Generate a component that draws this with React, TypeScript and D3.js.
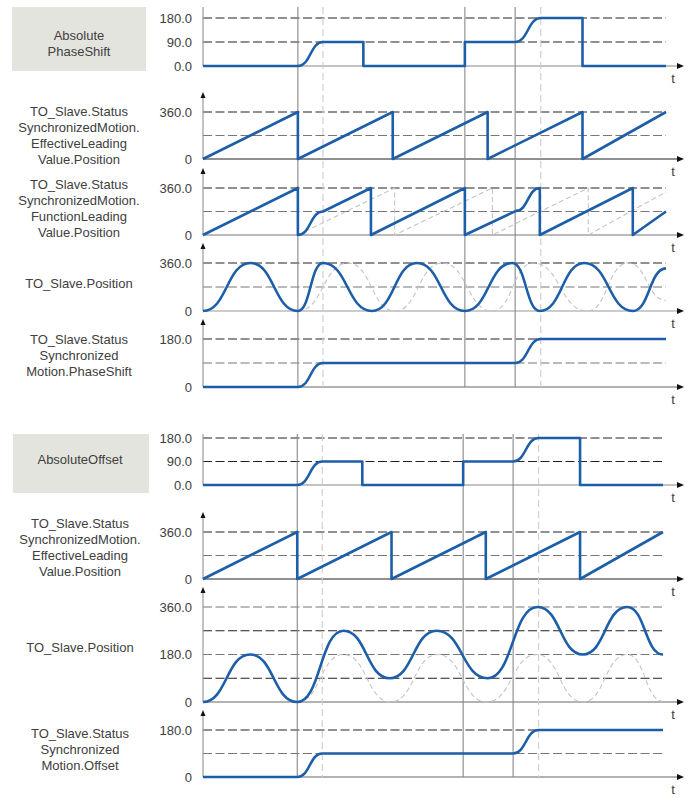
import React from "react";
import * as d3 from "d3";

type Pt = [number, number, number?]; // [time, value, smooth-into-this-point]

const solidMarks = [1.0, 2.76, 3.29];
const dashedMarks = [1.265, 3.56];
const tEnd = 4.88;

// AbsolutePhaseShift / AbsoluteOffset command
const commandValue: Pt[] = [
  [0, 0], [1.0, 0], [1.265, 90, 1], [1.69, 90], [1.69, 0], [2.76, 0], [2.76, 90],
  [3.29, 90], [3.56, 180, 1], [4.0, 180], [4.0, 0], [4.88, 0],
];
const effectiveLeading: Pt[] = [
  [0, 0], [1, 360], [1, 0], [2, 360], [2, 0], [3, 360], [3, 0], [4, 360], [4, 0], [4.88, 360],
];
const effectiveLeadingRef: Pt[] = [
  [1, 0], [2.02, 360], [2.02, 0], [3.05, 360], [3.05, 0], [4.06, 360], [4.06, 0], [4.88, 330],
];
const functionLeading: Pt[] = [
  [0, 0], [1.0, 360], [1.0, 0], [1.265, 180, 1], [1.77, 360], [1.77, 0], [2.76, 360],
  [2.76, 0], [3.3, 185], [3.55, 360, 1], [3.55, 0], [4.53, 360], [4.53, 0], [4.88, 180],
];
const slavePhase: Pt[] = [
  [0, 0], [0.5, 360, 1], [1.0, 0, 1], [1.265, 360, 1], [1.78, 0, 1], [2.255, 360, 1],
  [2.76, 0, 1], [3.26, 360, 1], [3.55, 0, 1], [4.02, 360, 1], [4.53, 0, 1], [4.88, 320, 1],
];
const slavePhaseRef: Pt[] = [
  [1.0, 0], [1.53, 360, 1], [2.02, 0, 1], [2.52, 360, 1], [3.05, 0, 1], [3.48, 360, 1],
  [4.05, 0, 1], [4.48, 360, 1], [4.88, 80, 1],
];
const statusValue: Pt[] = [
  [0, 0], [1.0, 0], [1.265, 90, 1], [3.29, 90], [3.56, 180, 1], [4.88, 180],
];
const slaveOffset: Pt[] = [
  [0, 0], [0.5, 180, 1], [1.0, 0, 1], [1.49, 270, 1], [1.98, 90, 1], [2.48, 270, 1],
  [3.02, 90, 1], [3.55, 360, 1], [4.03, 180, 1], [4.5, 360, 1], [4.88, 180, 1],
];
const slaveOffsetRef: Pt[] = [
  [1.0, 0], [1.49, 180, 1], [1.99, 0, 1], [2.49, 180, 1], [3.01, 0, 1], [3.54, 180, 1],
  [4.03, 0, 1], [4.5, 180, 1], [4.88, 3, 1],
];

const blue = "#1d5ea8";
const textCol = "#404040";
const dark = "#222";
const grey = "#777";
const font = "Liberation Sans, Arial, sans-serif";

type Panel = {
  base: number;
  top: number;
  max: number;
  ticks: [number, string][];
  grid: [number, string][];
  lines: string[];
  lineY: number;
  box?: [number, number, number, number];
  arrow: boolean;
  axis: string;
  series: Pt[];
  refs?: Pt[];
};

const topPanels: Panel[] = [
  {
    base: 66, top: 18, max: 180, ticks: [[180, "180.0"], [90, "90.0"], [0, "0.0"]],
    grid: [[180, dark], [90, dark]], lines: ["Absolute", "PhaseShift"], lineY: 40,
    box: [12, 7, 134, 64], arrow: false, axis: "#888", series: commandValue,
  },
  {
    base: 159, top: 112, max: 360, ticks: [[360, "360.0"], [0, "0"]],
    grid: [[360, dark], [180, grey]],
    lines: ["TO_Slave.Status", "SynchronizedMotion.", "EffectiveLeading", "Value.Position"],
    lineY: 116, arrow: true, axis: "#222", series: effectiveLeading,
  },
  {
    base: 235, top: 188, max: 360, ticks: [[360, "360.0"], [0, "0"]],
    grid: [[360, dark], [180, grey]],
    lines: ["TO_Slave.Status", "SynchronizedMotion.", "FunctionLeading", "Value.Position"],
    lineY: 189, arrow: true, axis: "#777", series: functionLeading, refs: effectiveLeadingRef,
  },
  {
    base: 311, top: 263, max: 360, ticks: [[360, "360.0"], [0, "0"]],
    grid: [[360, dark], [180, grey]], lines: ["TO_Slave.Position"], lineY: 288,
    arrow: true, axis: "#999", series: slavePhase, refs: slavePhaseRef,
  },
  {
    base: 387, top: 339, max: 180, ticks: [[180, "180.0"], [0, "0"]],
    grid: [[180, dark], [90, grey]],
    lines: ["TO_Slave.Status", "Synchronized", "Motion.PhaseShift"], lineY: 344,
    arrow: true, axis: "#666", series: statusValue,
  },
];

const bottomPanels: Panel[] = [
  {
    base: 485, top: 438, max: 180, ticks: [[180, "180.0"], [90, "90.0"], [0, "0.0"]],
    grid: [[180, dark], [90, dark]], lines: ["AbsoluteOffset"], lineY: 464,
    box: [13, 434, 136, 59], arrow: false, axis: "#888", series: commandValue,
  },
  {
    base: 579, top: 532, max: 360, ticks: [[360, "360.0"], [0, "0"]],
    grid: [[360, dark], [180, grey]],
    lines: ["TO_Slave.Status", "SynchronizedMotion.", "EffectiveLeading", "Value.Position"],
    lineY: 528, arrow: true, axis: "#222", series: effectiveLeading,
  },
  {
    base: 702, top: 607, max: 360, ticks: [[360, "360.0"], [180, "180.0"], [0, "0"]],
    grid: [[360, grey], [270, dark], [180, grey], [90, dark]],
    lines: ["TO_Slave.Position"], lineY: 652, arrow: true, axis: "#666",
    series: slaveOffset, refs: slaveOffsetRef,
  },
  {
    base: 777, top: 730, max: 180, ticks: [[180, "180.0"], [0, "0"]],
    grid: [[180, dark], [90, grey]],
    lines: ["TO_Slave.Status", "Synchronized", "Motion.Offset"], lineY: 738,
    arrow: true, axis: "#666", series: statusValue,
  },
];

function tracePath(pts: Pt[], x: (t: number) => number, y: (v: number) => number) {
  const p = d3.path();
  pts.forEach(([t, v, s], i) => {
    const px = x(t);
    const py = y(v);
    if (i === 0) p.moveTo(px, py);
    else if (s) {
      const qx = x(pts[i - 1][0]);
      const qy = y(pts[i - 1][1]);
      const mx = (qx + px) / 2;
      p.bezierCurveTo(mx, qy, mx, py, px, py);
    } else p.lineTo(px, py);
  });
  return p.toString();
}

function Section({ panels, xEnd, markTop, markBottom, labelX }: {
  panels: Panel[]; xEnd: number; markTop: number; markBottom: number; labelX: number;
}) {
  const x = d3.scaleLinear().domain([0, tEnd]).range([203, xEnd]);
  return (
    <g>
      {panels.map((pn, i) => {
        const y = d3.scaleLinear().domain([0, pn.max]).range([pn.base, pn.top]);
        const axisTop = pn.arrow ? pn.top - 16 : markTop;
        return (
          <g key={`p${i}`}>
            {pn.box && (
              <rect x={pn.box[0]} y={pn.box[1]} width={pn.box[2]} height={pn.box[3]} fill="#e4e4de" />
            )}
            {pn.lines.map((ln, j) => (
              <text key={j} x={labelX} y={pn.lineY + j * 16} textAnchor="middle"
                fontSize={13} fill={textCol}>{ln}</text>
            ))}
            {pn.grid.map(([v, c], j) => (
              <line key={`g${j}`} x1={203} x2={xEnd} y1={y(v)} y2={y(v)}
                stroke={c} strokeWidth={1.1} strokeDasharray="9,3.5" />
            ))}
            {pn.ticks.map(([v, s], j) => (
              <text key={`t${j}`} x={192} y={y(v) + 4.5} textAnchor="end"
                fontSize={13} fill={textCol}>{s}</text>
            ))}
            <line x1={203} x2={203} y1={axisTop} y2={pn.base} stroke="#999" strokeWidth={1.2} />
            {pn.arrow && (
              <path d={`M203,${axisTop - 4}L200.5,${axisTop + 2}L205.5,${axisTop + 2}Z`} fill="#111" />
            )}
            <line x1={203} x2={678} y1={pn.base} y2={pn.base} stroke={pn.axis} strokeWidth={1.2} />
            <path d={`M684,${pn.base}L677,${pn.base - 3}L677,${pn.base + 3}Z`} fill="#111" />
            <text x={673} y={pn.base + 17} textAnchor="middle" fontSize={13} fill={textCol}>t</text>
          </g>
        );
      })}
      {solidMarks.map((t, i) => (
        <line key={`s${i}`} x1={x(t)} x2={x(t)} y1={markTop} y2={markBottom}
          stroke="#888" strokeWidth={1.1} />
      ))}
      {dashedMarks.map((t, i) => (
        <line key={`d${i}`} x1={x(t)} x2={x(t)} y1={markTop} y2={markBottom}
          stroke="#d0d0d0" strokeWidth={1.2} strokeDasharray="7,4" />
      ))}
      {panels.map((pn, i) => {
        const y = d3.scaleLinear().domain([0, pn.max]).range([pn.base, pn.top]);
        return (
          <g key={`c${i}`}>
            {pn.refs && (
              <path d={tracePath(pn.refs, x, y)} fill="none" stroke="#c4c4c4"
                strokeWidth={1.1} strokeDasharray="5,3" />
            )}
            <path d={tracePath(pn.series, x, y)} fill="none" stroke={blue}
              strokeWidth={2.6} strokeLinejoin="round" />
          </g>
        );
      })}
    </g>
  );
}

export default function App() {
  return (
    <svg width={697} height={798} style={{ position: "absolute", left: 0, top: 0, background: "#fff" }}
      fontFamily={font}>
      <Section panels={topPanels} xEnd={666} markTop={7} markBottom={387} labelX={79} />
      <Section panels={bottomPanels} xEnd={663} markTop={434} markBottom={777} labelX={80} />
    </svg>
  );
}
